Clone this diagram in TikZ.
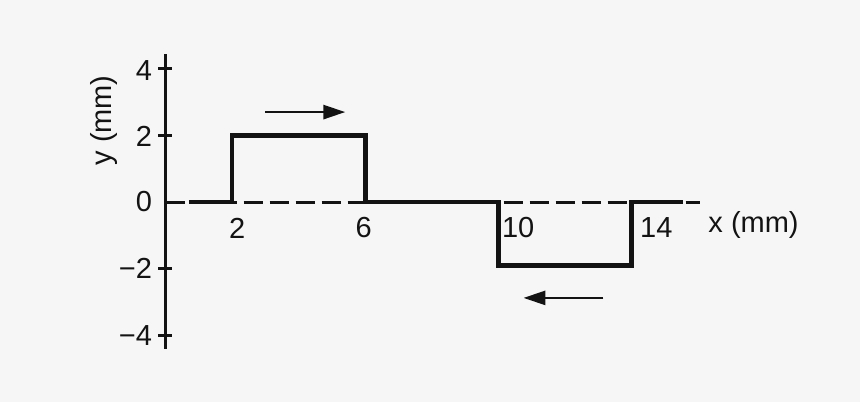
\documentclass[tikz,border=0pt]{standalone}
\usepackage{fontspec}
\setmainfont{Liberation Sans}
\usetikzlibrary{arrows.meta}
\definecolor{ink}{HTML}{131313}
\definecolor{paper}{HTML}{F6F6F6}
\begin{document}
\begin{tikzpicture}[x=33.3pt,y=33.3pt,
  axis/.style={ink,line width=3pt},
  wave/.style={ink,line width=4.6pt,line join=miter},
  dashline/.style={ink,line width=3pt,dash pattern=on 19pt off 7pt},
  motion/.style={ink,line width=2.8pt,-{Triangle[length=22pt,width=14pt]}},
  lab/.style={ink,font=\fontsize{29}{33}\selectfont,inner sep=0pt}]
\fill[paper] (-4.97,-6.006) rectangle (20.856,6.066);
\useasboundingbox (-4.97,-6.006) rectangle (20.856,6.066);
% axes
\coordinate (ytop) at (0,4.45);
\coordinate (ybot) at (0,-4.4);
\coordinate (xs) at (0,0);
\coordinate (xe) at (16.05,0);
\draw[dashline] (xs) -- (xe);
\draw[axis] (ybot) -- (ytop);
\foreach \v in {4,2,-2,-4}{
  \coordinate (tl\v) at (-0.22,\v);
  \coordinate (tr\v) at (0.2,\v);
  \draw[axis] (tl\v) -- (tr\v);
}
% waveform
\coordinate (w0) at (0.7,0);
\coordinate (w1) at (2,0);
\coordinate (w2) at (2,2);
\coordinate (w3) at (6,2);
\coordinate (w4) at (6,0);
\coordinate (w5) at (10,0);
\coordinate (w6) at (10,-1.9);
\coordinate (w7) at (14,-1.9);
\coordinate (w8) at (14,0);
\coordinate (w9) at (15.55,0);
\coordinate (w5b) at (9.6,0);
\draw[wave] (w0) -- (w1) -- (w2) -- (w3) -- (w4) -- (w5b);
\draw[wave] (w5b) -- (w5) -- (w6) -- (w7) -- (w8) -- (w9);
% motion arrows
\coordinate (a1s) at (3,2.7);
\coordinate (a1e) at (5.4,2.7);
\coordinate (a2s) at (13.15,-2.88);
\coordinate (a2e) at (10.75,-2.88);
\draw[motion] (a1s) -- (a1e);
\draw[motion] (a2s) -- (a2e);
% y labels
\node[lab,anchor=east] (l4) at (-0.4,3.95) {4};
\node[lab,anchor=east] (l2) at (-0.4,1.98) {2};
\node[lab,anchor=east] (l0) at (-0.4,0) {0};
\node[lab,anchor=east] (lm2) at (-0.4,-2) {−2};
\node[lab,anchor=east] (lm4) at (-0.4,-4) {−4};
\node[lab,rotate=90] (ylab) at (-1.85,2.45) {y (mm)};
% x labels
\node[lab] (x2) at (2.15,-0.78) {2};
\node[lab] (x6) at (5.95,-0.78) {6};
\node[lab,anchor=west] (x10) at (10.1,-0.78) {10};
\node[lab,anchor=west] (x14) at (14.25,-0.78) {14};
\node[lab,anchor=west] (xlab) at (16.3,-0.7) {x (mm)};
\end{tikzpicture}
\end{document}
